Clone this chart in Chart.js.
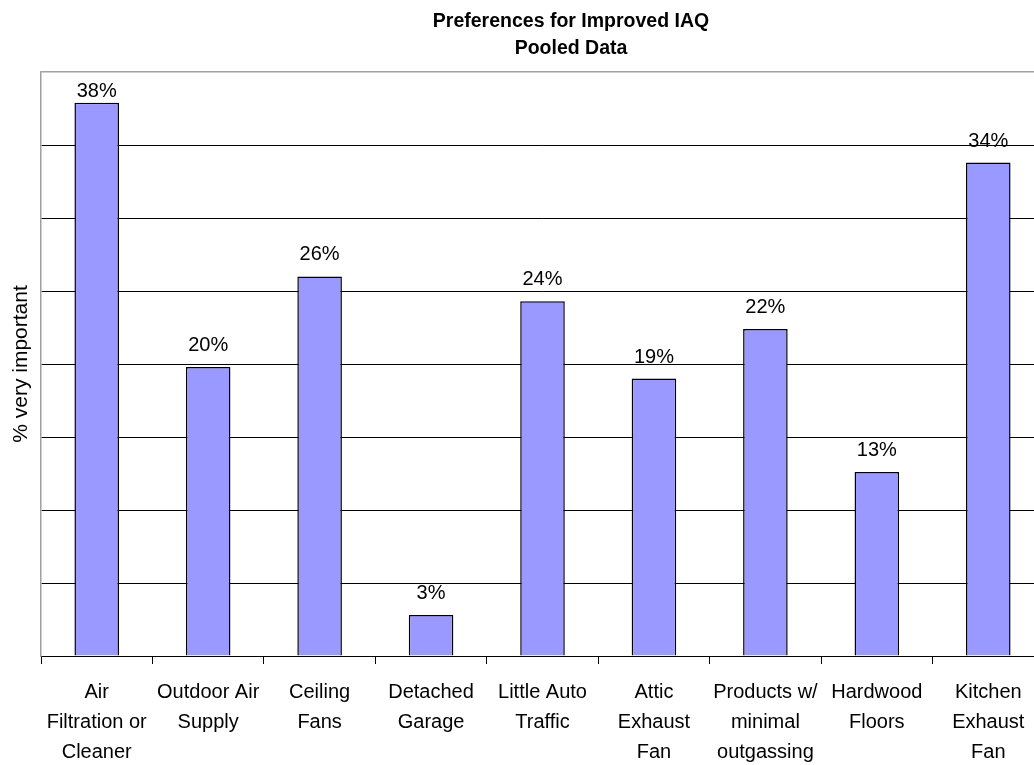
<!DOCTYPE html>
<html>
<head>
<meta charset="utf-8">
<script src="https://cdn.jsdelivr.net/npm/chart.js@4/dist/chart.umd.min.js"></script>
<style>
  html, body { margin: 0; padding: 0; background: #fff; overflow: hidden; }
  #wrap { width: 1142px; height: 765px; }
</style>
</head>
<body>
<div id="wrap"><canvas id="iaqChart" width="1142" height="765"></canvas></div>
<script>
const categories = [
    ['Air', 'Filtration or', 'Cleaner'],
    ['Outdoor Air', 'Supply'],
    ['Ceiling', 'Fans'],
    ['Detached', 'Garage'],
    ['Little Auto', 'Traffic'],
    ['Attic', 'Exhaust', 'Fan'],
    ['Products w/', 'minimal', 'outgassing'],
    ['Hardwood', 'Floors'],
    ['Kitchen', 'Exhaust', 'Fan']
];
const veryImportant = [37.9, 19.8, 26.0, 2.8, 24.3, 19.0, 22.4, 12.6, 33.8];
const yMax = 40;
const yStep = 5;

const sans = "'Liberation Sans', Arial, sans-serif";

// percent labels above the bars
const barLabels = {
    id: 'barLabels',
    afterDatasetsDraw(chart) {
        let ctx = chart.ctx;
        let area = chart.chartArea;
        let meta = chart.getDatasetMeta(0);
        ctx.save();
        ctx.font = '20px ' + sans;
        ctx.fillStyle = '#000';
        ctx.textAlign = 'center';
        ctx.textBaseline = 'alphabetic';
        meta.data.forEach((bar, i) => {
            let y = Math.max(bar.y - 16, area.top + 25);
            ctx.fillText(Math.round(veryImportant[i]) + '%', bar.x, y);
        });
        ctx.restore();
    }
};

let ctx = document.getElementById('iaqChart').getContext('2d');
new Chart(ctx, {
    type: 'bar',
    data: {
        labels: categories,
        datasets: [{
            label: '% very important',
            data: veryImportant,
            backgroundColor: '#9999ff',
            borderColor: '#000',
            borderWidth: 1.5,
            barPercentage: 0.4,
            categoryPercentage: 1
        }]
    },
    options: {
        responsive: false,
        animation: false,
        layout: { padding: 0 },
        plugins: {
            legend: { display: false },
            tooltip: { enabled: false },
            title: {
                display: true,
                text: ['Preferences for Improved IAQ', 'Pooled Data'],
                color: '#000',
                font: { family: sans, size: 19.5, weight: 'bold', lineHeight: 27 / 19.5 },
                padding: { top: 8, bottom: 10 }
            }
        },
        scales: {
            x: {
                grid: {
                    offset: true,
                    drawOnChartArea: false,
                    tickLength: 8,
                    color: '#000'
                },
                border: { color: '#000', width: 1 },
                ticks: {
                    color: '#000',
                    maxRotation: 0,
                    autoSkip: false,
                    padding: 13,
                    font: { family: sans, size: 20, lineHeight: 30 / 20 }
                },
                afterFit(scale) { scale.height = 109; }
            },
            y: {
                min: 0,
                max: yMax,
                ticks: { display: false, stepSize: yStep },
                grid: {
                    drawTicks: false,
                    color: c => c.tick && c.tick.value === yMax ? '#a0a0a0' : '#000',
                    lineWidth: c => c.tick && c.tick.value === yMax ? 1.5 : 1
                },
                border: { color: '#a0a0a0', width: 1.5 },
                title: {
                    display: true,
                    text: '% very important',
                    color: '#000',
                    font: { family: sans, size: 21 },
                    padding: { top: 9, bottom: 0 }
                },
                afterFit(scale) { scale.width = 41; }
            },
            // empty right-hand axis: the plot runs past the picture edge
            yRight: {
                position: 'right',
                min: 0,
                max: yMax,
                grid: { display: false },
                ticks: { display: false },
                border: { display: false },
                afterFit(scale) { scale.width = 98; }
            }
        }
    },
    plugins: [barLabels]
});
</script>
</body>
</html>
